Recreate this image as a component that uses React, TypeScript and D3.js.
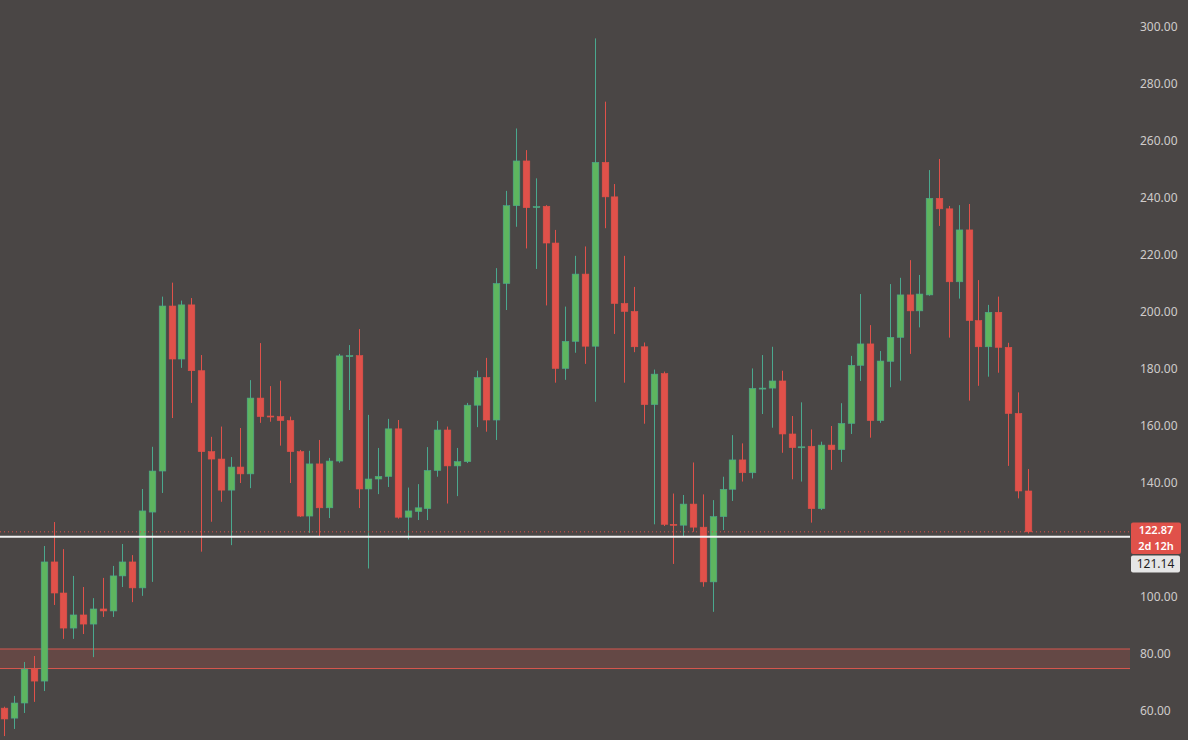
import React from "react";
import * as d3 from "d3";

const opens = [61.0,57.5,62.8,74.7,70.5,112.3,101.4,89.1,93.7,90.5,95.8,95.1,107.4,112.3,103.2,129.8,144.2,202.1,183.5,202.5,179.4,151.0,148.4,137.5,145.6,143.2,169.8,163.5,163.3,161.9,151.0,128.4,146.7,131.3,147.7,184.5,184.7,137.9,141.4,142.3,159.0,128.0,130.0,131.0,144.4,158.6,146.0,147.5,167.3,177.0,162.1,210.0,237.3,253.0,236.8,237.1,224.2,180.2,189.7,213.3,188.0,252.5,240.4,203.0,200.2,187.8,167.5,178.4,125.5,125.2,132.6,124.5,105.3,128.2,137.8,148.1,143.6,173.2,173.3,175.8,157.2,152.5,152.9,131.0,153.3,151.7,160.9,181.3,188.8,161.9,182.7,191.1,206.0,200.4,206.0,239.9,236.2,210.6,228.8,197.0,187.8,199.9,187.6,164.4,137.2];
const highs = [61.5,65.3,77.2,79.3,117.9,126.3,116.8,107.4,103.5,99.6,106.7,110.9,118.6,114.7,137.9,152.7,205.4,210.3,204.0,204.9,184.9,156.2,159.8,149.1,159.3,176.1,189.1,174.0,175.9,163.3,151.6,151.3,155.1,148.8,185.3,188.4,194.0,163.9,152.3,162.5,162.1,138.4,139.6,152.6,161.8,159.8,152.3,168.1,179.4,183.9,215.4,242.5,264.4,256.8,246.9,237.5,228.8,201.9,219.7,223.0,296.0,273.8,244.9,219.7,208.8,189.3,179.8,179.1,136.3,135.8,147.2,136.0,134.0,142.2,156.8,153.9,180.2,184.9,187.8,179.4,163.5,168.3,158.8,154.5,160.0,168.0,184.6,206.3,195.4,186.3,209.8,212.0,218.2,213.0,249.8,253.7,237.2,237.5,237.9,211.2,202.5,205.4,189.2,171.8,144.9];
const lows = [51.2,53.7,59.3,63.2,67.0,97.2,85.3,85.3,87.0,78.9,93.0,93.0,103.5,98.2,100.4,105.3,136.5,162.8,180.4,168.1,115.9,126.4,133.4,118.2,140.0,138.2,161.1,161.5,153.1,140.0,128.1,122.5,121.2,127.7,147.1,165.6,131.2,110.0,136.1,138.6,127.5,120.2,127.0,127.0,142.2,132.8,135.4,147.0,159.6,158.0,155.1,200.7,229.9,222.3,215.1,202.3,175.2,176.2,185.7,181.8,168.5,229.4,192.3,175.2,185.9,160.8,125.5,124.9,111.6,121.4,122.9,103.6,94.8,123.5,133.7,140.5,141.6,164.2,159.4,150.6,141.3,140.5,126.1,130.5,144.6,147.4,157.2,175.8,155.9,161.1,173.6,175.9,185.3,194.6,205.7,230.2,191.0,204.7,168.9,174.1,177.3,178.7,146.0,134.6,122.3];
const closes = [57.2,62.8,74.7,70.5,112.3,101.4,89.1,93.7,90.5,95.8,95.1,107.4,112.3,103.2,130.2,144.2,202.1,183.5,202.5,179.4,151.0,148.4,137.5,145.6,143.2,169.8,163.3,163.3,161.9,151.0,128.4,146.7,131.3,147.7,184.6,184.7,137.9,141.4,142.3,159.0,128.0,130.2,131.3,144.4,158.6,146.0,147.5,167.3,177.0,162.1,210.0,237.3,253.0,236.6,237.0,224.2,180.2,189.7,213.3,188.0,252.5,240.4,203.0,200.2,187.8,167.5,178.2,125.5,125.2,132.6,124.5,105.3,128.2,137.8,148.1,143.6,173.2,173.3,175.8,157.2,152.4,152.7,131.0,153.3,151.7,160.9,181.3,188.8,161.9,182.8,191.1,206.0,200.4,206.3,239.9,236.2,210.6,228.8,197.0,187.8,199.9,187.6,164.4,137.2,122.87];

const priceTicks = [300, 280, 260, 240, 220, 200, 180, 160, 140, 120, 100, 80, 60];
const zoneRange = [74.9, 81.75];
const lastPrice = 122.87;
const linePrice = 121.14;
const countdown = "2d 12h";

const W = 1188;
const H = 740;
const PLOT_RIGHT = 1130;
const BG = "#4a4645";
const UP = "#5eb55f";
const UP_WICK = "#4aa88e";
const DOWN = "#e0514a";

export default function App() {
  const y = d3.scaleLinear().domain([60, 300]).range([711, 27]);
  const x = d3.scaleLinear().domain([0, opens.length - 1]).range([4.3, 1027.7]);
  const bw = 6.6;

  return (
    <svg
      width={W}
      height={H}
      style={{ position: "absolute", left: 0, top: 0, display: "block" }}
      fontFamily="'Noto Sans', 'DejaVu Sans', sans-serif"
    >
      <rect x={0} y={0} width={W} height={H} fill={BG} />
      {/* zone */}
      <rect
        x={0}
        y={y(zoneRange[1])}
        width={PLOT_RIGHT}
        height={y(zoneRange[0]) - y(zoneRange[1])}
        fill="#e0514a"
        fillOpacity={0.18}
      />
      <line x1={0} x2={PLOT_RIGHT} y1={y(zoneRange[1])} y2={y(zoneRange[1])} stroke="#d9574e" strokeWidth={1} />
      <line x1={0} x2={PLOT_RIGHT} y1={y(zoneRange[0])} y2={y(zoneRange[0])} stroke="#d9574e" strokeWidth={1} />

      {/* candles */}
      {opens.map((o, i) => {
        const c = closes[i];
        const up = c >= o;
        const cx = Math.round(x(i)) + 0.5;
        const top = y(Math.max(o, c));
        const bot = y(Math.min(o, c));
        const bh = Math.max(1, bot - top);
        return (
          <g key={i}>
            <line x1={cx} x2={cx} y1={y(highs[i])} y2={y(lows[i])} stroke={up ? UP_WICK : DOWN} strokeWidth={1} />
            <rect
              x={cx - bw / 2}
              y={top}
              width={bw}
              height={bh}
              fill={up ? UP : DOWN}
              stroke={up ? UP_WICK : DOWN}
              strokeWidth={0.6}
            />
          </g>
        );
      })}

      {/* last price dotted line */}
      <line
        x1={0}
        x2={PLOT_RIGHT}
        y1={y(lastPrice)}
        y2={y(lastPrice)}
        stroke="#e0514a"
        strokeWidth={1}
        strokeDasharray="1,3"
      />
      {/* white horizontal line */}
      <line x1={0} x2={PLOT_RIGHT} y1={y(linePrice)} y2={y(linePrice)} stroke="#f2f2f2" strokeWidth={2} />

      {/* axis labels */}
      {priceTicks.map((t) => (
        <text key={t} x={1140} y={y(t)} dy="0.35em" fontSize={12} fill="#cfcbca">
          {t.toFixed(2)}
        </text>
      ))}

      {/* price labels */}
      <rect x={1131} y={522.5} width={50} height={31.5} rx={2} fill="#e0514a" />
      <text x={1156} y={530.5} dy="0.35em" textAnchor="middle" fontSize={11} fill="#ffffff" fontWeight={600}>
        {lastPrice.toFixed(2)}
      </text>
      <text x={1156} y={546.5} dy="0.35em" textAnchor="middle" fontSize={11} fill="#ffffff" fontWeight={600}>
        {countdown}
      </text>
      <rect x={1131} y={555.5} width={49} height={17} rx={2} fill="#e6e6e6" />
      <text x={1155.5} y={564} dy="0.35em" textAnchor="middle" fontSize={12} fill="#1e1e1e">
        {linePrice.toFixed(2)}
      </text>
    </svg>
  );
}
